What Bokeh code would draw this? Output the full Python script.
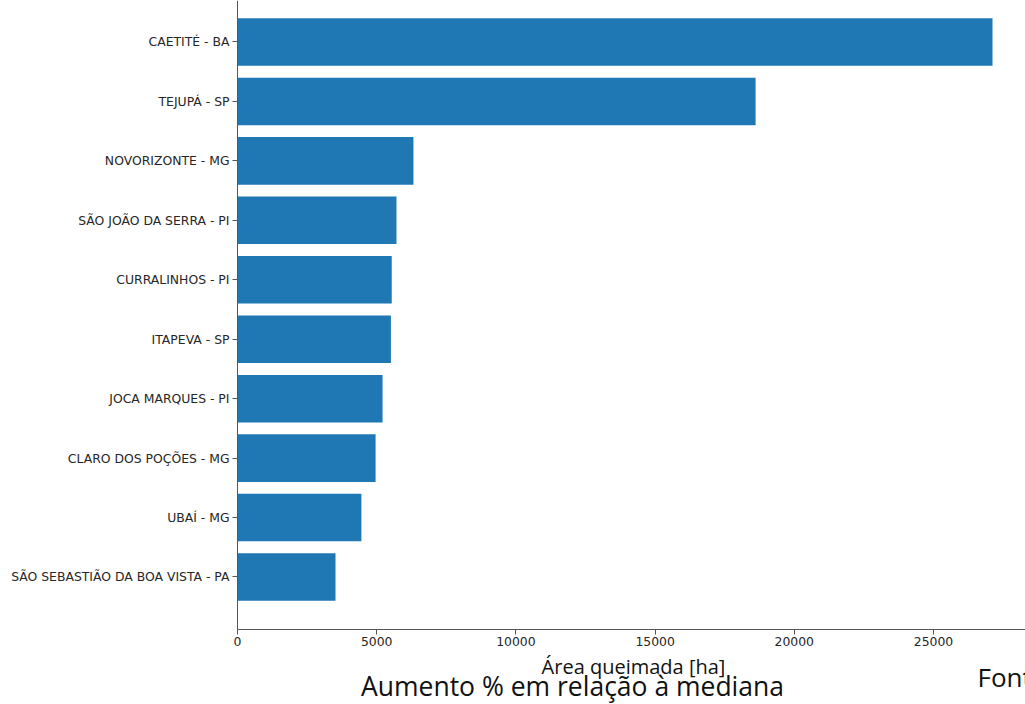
from bokeh.plotting import figure
from bokeh.models import Range1d, FixedTicker, Label
from bokeh.embed import file_html
from bokeh.resources import INLINE

municipios = ["CAETITÉ - BA", "TEJUPÁ - SP", "NOVORIZONTE - MG", "SÃO JOÃO DA SERRA - PI",
              "CURRALINHOS - PI", "ITAPEVA - SP", "JOCA MARQUES - PI", "CLARO DOS POÇÕES - MG",
              "UBAÍ - MG", "SÃO SEBASTIÃO DA BOA VISTA - PA"]
area_queimada = [27120, 18610, 6320, 5710, 5540, 5510, 5210, 4960, 4450, 3520]
x_ticks = [0, 5000, 10000, 15000, 20000, 25000]

pos = list(range(len(municipios)))
y_bottom = 9.883
y_top = -0.698
x_end = 28305

p = figure(width=1025, height=704, output_backend="svg", toolbar_location=None,
           x_range=Range1d(-8513, x_end), y_range=Range1d(11.145, y_top),
           min_border_left=0, min_border_top=0, min_border_right=0, min_border_bottom=0)
p.hbar(y=pos, right=area_queimada, left=0, height=0.8, color="#1f77b4", line_color=None)

p.grid.visible = False
p.outline_line_color = None
p.background_fill_color = "white"

p.xaxis.ticker = FixedTicker(ticks=x_ticks)
p.xaxis.fixed_location = y_bottom
p.xaxis.bounds = (0, x_end)
p.yaxis.ticker = FixedTicker(ticks=pos)
p.yaxis.fixed_location = 0
p.yaxis.bounds = (y_top, y_bottom)
p.yaxis.major_label_overrides = {i: m for i, m in zip(pos, municipios)}
for ax in (p.xaxis[0], p.yaxis[0]):
    ax.major_label_text_font = "DejaVu Sans"
    ax.major_label_text_font_size = "12.4px"
    ax.major_label_text_color = "#262626"
    ax.axis_line_color = "#555555"
    ax.major_tick_line_color = "#555555"
    ax.major_tick_out = 5
    ax.major_tick_in = 0
    ax.minor_tick_out = 0
    ax.minor_tick_in = 0
    ax.major_label_standoff = 3

p.add_layout(Label(x=14224, y=10.514, text="Área queimada [ha]", text_align="center",
                   text_baseline="alphabetic", text_font="Open Sans", text_font_size="20px",
                   text_color="#111111"))
p.add_layout(Label(x=12033, y=10.84, text="Aumento % em relação à mediana", text_align="center",
                   text_baseline="alphabetic", text_font="Open Sans", text_font_size="26.5px",
                   text_color="#111111"))
p.add_layout(Label(x=26580, y=10.674, text="Fonte:", text_align="left",
                   text_baseline="alphabetic", text_font="Open Sans", text_font_size="26px",
                   text_color="#111111"))

open("out.html", "w").write(file_html(p, INLINE))
